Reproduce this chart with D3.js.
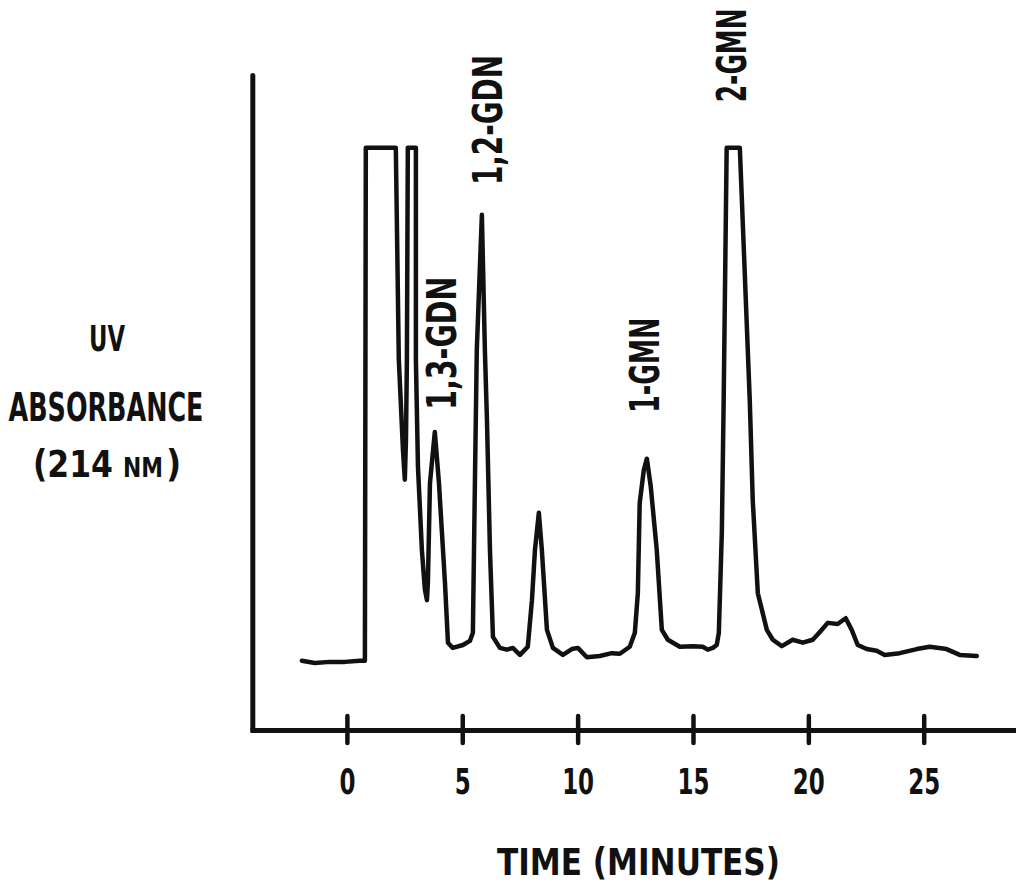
<!DOCTYPE html>
<html>
<head>
<meta charset="utf-8">
<title>UV absorbance chromatogram</title>
<script src="https://cdn.jsdelivr.net/npm/d3@7"></script>
<style>
    body { margin: 0; background: #fff; }
    svg { display: block; }
    .lettering {
        font-family: "Liberation Sans Narrow", "DejaVu Sans Condensed", sans-serif;
        font-weight: bold;
        fill: #111;
    }
</style>
</head>
<body>
<svg id="chart"></svg>
<script>
// retention time in minutes
const traceTimes = [
    -1.95, -1.39, -0.74, -0.09, 0.56, 0.78, 0.82, 2.12, 2.25, 2.43,
    2.51, 2.56, 2.60, 2.64, 2.82, 2.99, 2.99, 3.08, 3.25, 3.38,
    3.47, 3.51, 3.60, 3.81, 3.99, 4.25, 4.38, 4.59, 5.03, 5.33,
    5.46, 5.55, 5.63, 5.85, 5.98, 6.07, 6.20, 6.33, 6.63, 6.93,
    7.19, 7.50, 7.84, 8.02, 8.15, 8.32, 8.45, 8.67, 8.93, 9.36,
    9.75, 10.01, 10.40, 10.96, 11.48, 11.83, 12.26, 12.48, 12.61, 12.69,
    12.87, 13.00, 13.17, 13.43, 13.65, 13.91, 14.43, 14.99, 15.42, 15.64,
    15.86, 16.03, 16.12, 16.25, 16.33, 16.46, 17.03, 17.46, 17.59, 17.81,
    18.20, 18.46, 18.85, 19.32, 19.76, 20.19, 20.49, 20.84, 21.27, 21.62,
    21.88, 22.14, 22.53, 22.96, 23.31, 23.96, 24.70, 25.26, 25.99, 26.56,
    27.30
];

// detector response, relative units (100 = recorder pen limit)
const traceValues = [
    11.9, 11.5, 11.7, 11.7, 11.9, 11.9, 100, 100, 63.6, 48.1,
    43.0, 49.8, 63.6, 100, 100, 100, 63.6, 45.2, 30.9, 24.1,
    22.3, 25.3, 42.4, 51.2, 42.4, 25.3, 15.0, 14.1, 14.6, 15.3,
    16.7, 43.0, 65.3, 88.5, 65.3, 53.3, 30.9, 16.0, 14.1, 13.8,
    14.1, 12.9, 14.3, 22.3, 30.9, 37.3, 30.9, 17.2, 14.1, 12.9,
    13.9, 14.1, 12.5, 12.7, 13.2, 13.1, 14.3, 16.7, 23.5, 39.0,
    44.7, 46.6, 41.8, 30.9, 17.2, 15.5, 14.3, 14.4, 14.3, 13.8,
    14.1, 14.6, 16.7, 33.9, 56.7, 100, 100, 56.7, 39.5, 23.5,
    17.2, 15.5, 14.4, 15.5, 15.0, 15.5, 16.8, 18.4, 18.2, 19.2,
    17.2, 14.6, 13.9, 13.6, 12.9, 13.2, 13.9, 14.3, 13.9, 12.9,
    12.7
];

const timeTicks = [0, 5, 10, 15, 20, 25];

const peakNames = ['1,3-GDN', '1,2-GDN', '1-GMN', '2-GMN'];
const peakLabelTimes = [4.12, 6.11, 12.91, 16.68];
const peakLabelLevels = [55.0, 93.6, 54.5, 107.8];

class ChromatogramChart {
    constructor() {
        this.width = 1016;
        this.height = 889;
        this.svg = null;
        this.xScale = null;
        this.yScale = null;
        this.init();
    }

    init() {
        this.setupSVG();
        this.setupScales();
        this.drawAxes();
        this.drawTrace();
        this.drawPeakLabels();
        this.drawTitles();
    }

    setupSVG() {
        this.svg = d3.select('#chart')
            .attr('width', this.width)
            .attr('height', this.height);
    }

    setupScales() {
        this.xScale = d3.scaleLinear()
            .domain([-4.2, 29])
            .range([250, 1016]);

        this.yScale = d3.scaleLinear()
            .domain([0, 112.5])
            .range([730, 75]);
    }

    drawAxes() {
        const xAxis = d3.axisBottom(this.xScale)
            .tickValues(timeTicks)
            .tickSizeInner(0)
            .tickSizeOuter(0)
            .tickPadding(38)
            .tickFormat(d3.format('d'));

        const gx = this.svg.append('g')
            .attr('class', 'x-axis')
            .attr('transform', `translate(0,${this.yScale(0)})`)
            .call(xAxis);

        gx.select('.domain')
            .attr('stroke', '#111')
            .attr('stroke-width', 5);

        // narrow lettering like the original stencil digits
        gx.selectAll('.tick text')
            .attr('class', 'lettering')
            .style('font-size', '36px')
            .attr('fill', '#111')
            .attr('textLength', d => String(d).length * 16)
            .attr('lengthAdjust', 'spacingAndGlyphs');

        // tick marks cross the axis line
        gx.selectAll('.tick')
            .append('line')
            .attr('y1', -14)
            .attr('y2', 13)
            .attr('stroke', '#111')
            .attr('stroke-width', 4.5)
            .attr('stroke-linecap', 'round');

        const yAxis = d3.axisLeft(this.yScale)
            .tickValues([])
            .tickSizeOuter(0);

        this.svg.append('g')
            .attr('class', 'y-axis')
            .attr('transform', `translate(${this.xScale(-4.1)},0)`)
            .call(yAxis)
            .select('.domain')
            .attr('stroke', '#111')
            .attr('stroke-width', 5)
            .attr('stroke-linecap', 'round');
    }

    drawTrace() {
        const points = traceTimes.map((t, i) => [t, traceValues[i]]);

        const line = d3.line()
            .x(d => this.xScale(d[0]))
            .y(d => this.yScale(d[1]))
            .curve(d3.curveLinear);

        this.svg.append('path')
            .datum(points)
            .attr('class', 'trace')
            .attr('d', line)
            .attr('fill', 'none')
            .attr('stroke', '#111')
            .attr('stroke-width', 4.5)
            .attr('stroke-linejoin', 'round')
            .attr('stroke-linecap', 'round');
    }

    drawPeakLabels() {
        const lengths = [133, 130, 95, 94];

        peakNames.forEach((name, i) => {
            const x = this.xScale(peakLabelTimes[i]);
            const y = this.yScale(peakLabelLevels[i]);
            this.svg.append('text')
                .attr('class', 'lettering peak-label')
                .attr('transform', `translate(${x},${y}) rotate(-90)`)
                .attr('dy', '0.35em')
                .attr('textLength', lengths[i])
                .attr('lengthAdjust', 'spacingAndGlyphs')
                .style('font-size', '40px')
                .text(name);
        });
    }

    drawTitles() {
        const yTitle = this.svg.append('g').attr('class', 'y-title');

        yTitle.append('text')
            .attr('class', 'lettering')
            .attr('x', 107).attr('y', 351)
            .attr('text-anchor', 'middle')
            .attr('textLength', 36)
            .attr('lengthAdjust', 'spacingAndGlyphs')
            .style('font-size', '36px')
            .text('UV');

        yTitle.append('text')
            .attr('class', 'lettering')
            .attr('x', 106).attr('y', 421)
            .attr('text-anchor', 'middle')
            .attr('textLength', 195)
            .attr('lengthAdjust', 'spacingAndGlyphs')
            .style('font-size', '39px')
            .text('ABSORBANCE');

        // wavelength line: "(214" then small-caps "NM" then ")"
        yTitle.append('text')
            .attr('class', 'lettering')
            .attr('x', 33).attr('y', 477)
            .attr('textLength', 80)
            .attr('lengthAdjust', 'spacingAndGlyphs')
            .style('font-size', '37px')
            .text('(214');

        yTitle.append('text')
            .attr('class', 'lettering')
            .attr('x', 123).attr('y', 477)
            .attr('textLength', 40)
            .attr('lengthAdjust', 'spacingAndGlyphs')
            .style('font-size', '27px')
            .text('NM');

        yTitle.append('text')
            .attr('class', 'lettering')
            .attr('x', 166).attr('y', 477)
            .style('font-size', '37px')
            .text(')');

        this.svg.append('text')
            .attr('class', 'lettering x-title')
            .attr('x', 497).attr('y', 875)
            .attr('textLength', 283)
            .attr('lengthAdjust', 'spacingAndGlyphs')
            .style('font-size', '37px')
            .text('TIME (MINUTES)');
    }
}

document.addEventListener('DOMContentLoaded', () => {
    new ChromatogramChart();
});
</script>
</body>
</html>
